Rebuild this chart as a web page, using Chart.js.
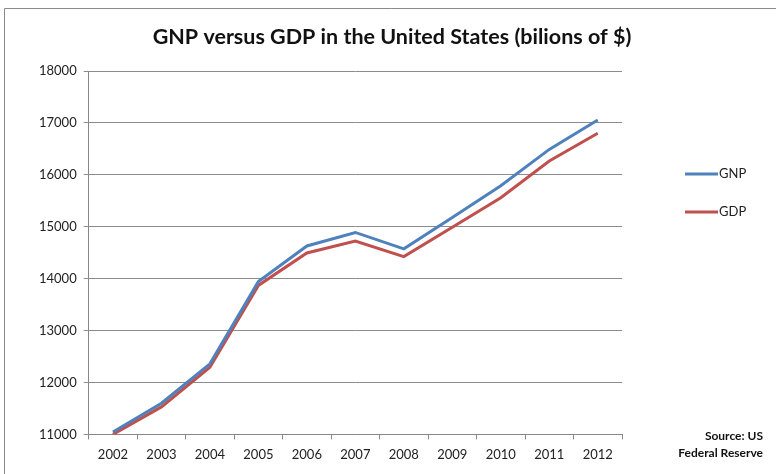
<!DOCTYPE html>
<html>
<head>
<meta charset="utf-8">
<script src="https://cdn.jsdelivr.net/npm/chart.js@4/dist/chart.umd.min.js"></script>
<style>
  html, body { margin: 0; padding: 0; background: #fff; }
  #wrap { width: 776px; height: 474px; position: relative; }
</style>
</head>
<body>
<div id="wrap"><canvas id="chart_gnpGdp"></canvas></div>
<script>
var years = ['2002', '2003', '2004', '2005', '2006', '2007', '2008', '2009', '2010', '2011', '2012'];
var gnpValues = [11045, 11600, 12360, 13945, 14630, 14890, 14575, 15180, 15790, 16490, 17055];
var gdpValues = [11000, 11530, 12295, 13870, 14495, 14725, 14425, 14990, 15560, 16265, 16800];
var yTicks = [11000, 12000, 13000, 14000, 15000, 16000, 17000, 18000];
var chartTitle = 'GNP versus GDP in the United States (bilions of $)';
var sourceLines = ['Source: US', 'Federal Reserve'];

var FONT = 'Lato, "Open Sans", sans-serif';

var chart_gnpGdp = new Chart(document.getElementById('chart_gnpGdp'), {
    type: 'line',
    data: {
        labels: years,
        datasets: [
            {
                label: 'GNP',
                data: gnpValues,
                borderColor: '#4F81BD',
                backgroundColor: '#4F81BD',
                borderWidth: 3,
                pointRadius: 0,
                tension: 0
            },
            {
                label: 'GDP',
                data: gdpValues,
                borderColor: '#C0504D',
                backgroundColor: '#C0504D',
                borderWidth: 3,
                pointRadius: 0,
                tension: 0
            }
        ]
    },
    options: {
        animation: false,
        responsive: true,
        maintainAspectRatio: false,
        layout: {
            padding: { left: 32, right: 154, top: 71, bottom: 3 }
        },
        plugins: {
            legend: { display: false },
            tooltip: { enabled: false },
            title: { display: false }
        },
        scales: {
            x: {
                offset: true,
                grid: {
                    offset: true,
                    drawOnChartArea: false,
                    drawTicks: true,
                    tickLength: 5,
                    color: '#888'
                },
                border: { color: '#888', width: 1 },
                ticks: {
                    color: '#222',
                    font: { family: FONT, size: 13 },
                    padding: 8,
                    maxRotation: 0,
                    autoSkip: false
                }
            },
            y: {
                min: yTicks[0],
                max: yTicks[yTicks.length - 1],
                afterBuildTicks: function (scale) {
                    scale.ticks = yTicks.map(function (v) { return { value: v }; });
                },
                grid: {
                    color: '#8c8c8c',
                    tickLength: 5,
                    drawTicks: true
                },
                border: { color: '#888', width: 1 },
                ticks: {
                    color: '#222',
                    font: { family: FONT, size: 13 },
                    padding: 7,
                    callback: function (value) { return String(value); }
                }
            }
        }
    },
    plugins: [{
        id: 'excelFrame',
        beforeDraw: function (chart) {
            var ctx = chart.ctx;
            ctx.save();
            ctx.fillStyle = 'white';
            ctx.fillRect(0, 0, chart.width, chart.height);
            ctx.strokeStyle = '#8a8a8a';
            ctx.lineWidth = 1;
            ctx.beginPath();
            ctx.moveTo(4.5, chart.height);
            ctx.lineTo(4.5, 8.5);
            ctx.lineTo(chart.width, 8.5);
            ctx.stroke();
            ctx.restore();
        },
        afterDraw: function (chart) {
            var ctx = chart.ctx;
            ctx.save();
            // title, centred over the whole chart like the Excel original
            ctx.font = 'bold 21.5px ' + FONT;
            ctx.textAlign = 'center';
            ctx.textBaseline = 'middle';
            ctx.fillStyle = '#111';
            ctx.fillText(chartTitle, 392, 37);
            // legend on the right
            var lx = 685, ly = 174, gap = 38;
            ctx.font = '13px ' + FONT;
            ctx.textAlign = 'left';
            chart.data.datasets.forEach(function (ds, i) {
                var y = ly + i * gap;
                ctx.strokeStyle = ds.borderColor;
                ctx.lineWidth = 3;
                ctx.beginPath();
                ctx.moveTo(lx, y);
                ctx.lineTo(lx + 33, y);
                ctx.stroke();
                ctx.fillStyle = '#222';
                ctx.fillText(ds.label, lx + 34, y);
            });
            // source note
            ctx.font = 'bold 12px ' + FONT;
            ctx.textAlign = 'right';
            ctx.fillStyle = '#111';
            sourceLines.forEach(function (t, i) {
                ctx.fillText(t, 763, 436 + i * 17);
            });
            ctx.restore();
        }
    }]
});
</script>
</body>
</html>
